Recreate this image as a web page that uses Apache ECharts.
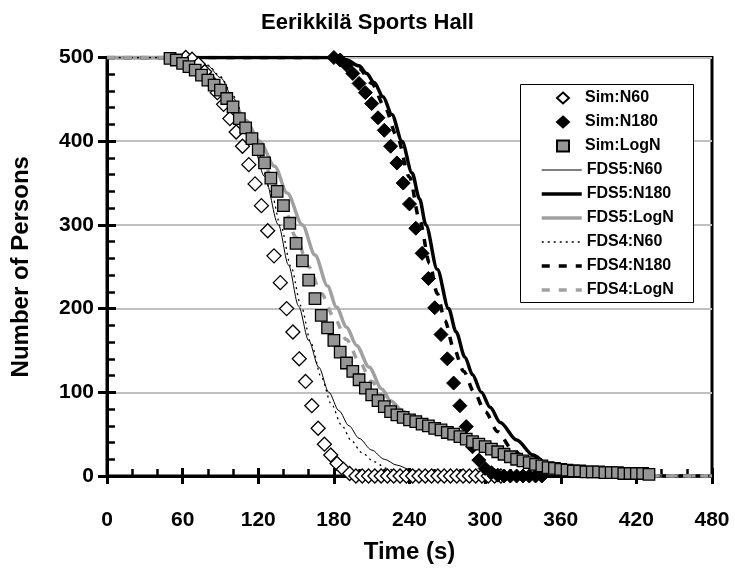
<!DOCTYPE html>
<html><head><meta charset="utf-8">
<script src="https://cdn.jsdelivr.net/npm/echarts@6/dist/echarts.min.js"></script>
<style>html,body{margin:0;padding:0;background:#fff}#c{width:735px;height:569px}</style>
</head><body><div id="c"></div>
<script>
// ---- data (time s, number of persons) ----
const simN60 = [[62.5,500],[67.5,498],[72.5,492],[77.5,483],[82.5,471],[87.5,458],[92.5,444],[97.5,427],[102.5,411],[107.5,394],[112.5,372],[117.5,349],[122.5,323],[127.5,293],[132.5,263],[137.5,231],[142.5,200],[147.5,172],[152.5,140],[157.5,113],[162.5,84],[167.5,57],[172.5,38],[177.5,25],[182.5,15],[187.5,8],[192.5,3],[197.5,0],[202.5,0],[207.5,0],[212.5,0],[217.5,0],[222.5,0],[227.5,0],[232.5,0],[237.5,0],[242.5,0],[247.5,0],[252.5,0],[257.5,0],[262.5,0],[267.5,0],[272.5,0],[277.5,0],[282.5,0],[287.5,0],[292.5,0],[297.5,0],[302.5,0],[307.5,0],[312.5,0]];
const simN180 = [[180,500],[185,497],[190,491],[195,481],[200,469],[205,458],[210,445],[215,428],[220,413],[225,394],[230,374],[235,350],[240,325],[245,296],[250,266],[255,236],[260,201],[265,169],[270,140],[275,111],[280,84],[285,59],[290,35],[295,19],[300,9],[305,4],[310,1],[315,0],[320,0],[325,0],[330,0],[335,0],[340,0],[345,0]];
const simLogN = [[50,499],[55,497],[60,493],[65,489],[70,485],[75,479],[80,473],[85,467],[90,461],[95,451],[100,441],[105,427],[110,416],[115,403],[120,390],[125,374],[130,356],[135,340],[140,323],[145,302],[150,278],[155,257],[160,234],[165,212],[170,192],[175,177],[180,162],[185,148],[190,135],[195,125],[200,115],[205,105],[210,97],[215,90],[220,83],[225,77],[230,73],[235,70],[240,67],[245,65],[250,62],[255,60],[260,57],[265,55],[270,52],[275,50],[280,47],[285,44],[290,41],[295,38],[300,35],[305,32],[310,29],[315,26],[320,23],[325,20],[330,18],[335,16],[340,14],[345,12],[350,10],[355,9],[360,8],[365,7],[370,6],[375,6],[380,5],[385,5],[390,5],[395,4],[400,4],[405,4],[410,3],[415,3],[420,3],[425,3],[430,2]];
const fds5N60 = [[0,500],[60,500],[70,497],[80,490],[90,476],[100,452],[108,428],[115,400],[125,358],[136,300],[144,252],[152,203],[160,162],[168,130],[176,100],[184,78],[192,60],[200,45],[210,31],[220,20],[230,13],[240,8],[250,4],[260,1],[270,0],[480,0]];
const fds5N180 = [[0,500],[180,500],[190,497],[200,490],[206,481],[212,470],[219,453],[226,432],[234,400],[242,362],[248,331],[253,300],[262,247],[271,200],[277,172],[284,142],[290,121],[297,100],[304,82],[312,64],[325,43],[338,25],[349,15],[360,9],[370,5],[380,2],[390,0],[480,0]];
const fds5LogN = [[0,500],[50,500],[60,497],[70,492],[80,482],[90,467],[100,447],[110,425],[121,400],[133,370],[143,338],[155,300],[165,264],[175,227],[182,202],[190,178],[198,156],[208,130],[218,104],[225,90],[235,77],[245,68],[260,58],[280,46],[300,34],[320,23],[340,14],[360,8],[380,4],[400,2],[420,1],[440,0],[480,0]];
const fds4N60 = [[0,500],[60,500],[70,498],[80,491],[90,477],[100,454],[110,424],[120,386],[130,340],[138,298],[146,250],[154,203],[162,158],[170,118],[178,86],[186,61],[194,42],[202,28],[212,17],[222,9],[232,4],[242,1],[250,0],[480,0]];
const fds4N180 = [[0,500],[180,500],[190,496],[200,487],[210,469],[220,442],[230,406],[240,357],[248,306],[256,254],[262,218],[268,186],[275,153],[283,125],[291,101],[300,77],[310,53],[321,33],[333,18],[345,8],[355,3],[365,0],[480,0]];
const fds4LogN = [[0,500],[50,500],[60,497],[70,491],[80,480],[90,465],[100,445],[110,421],[120,393],[130,360],[140,322],[150,285],[160,250],[170,218],[180,190],[190,163],[200,137],[210,113],[220,93],[230,79],[240,70],[255,60],[270,51],[290,39],[310,28],[330,19],[350,12],[370,7],[390,4],[410,2],[430,0],[480,0]];
const simNames = ['Sim:N60','Sim:N180','Sim:LogN'];
const fdsNames = ['FDS5:N60','FDS5:N180','FDS5:LogN','FDS4:N60','FDS4:N180','FDS4:LogN'];
const xMin = 0, xMax = 480, xStep = 60;
const yMin = 0, yMax = 500, yStep = 100;

const FONT = 'Liberation Sans, Arial, sans-serif';
const GRAY_LINE = '#a0a0a0';
const GRAY_FILL = '#969696';

const lineDefs = {
  'FDS5:N60':  { data: fds5N60,  color: '#000',    width: 1,   type: 'solid' },
  'FDS5:N180': { data: fds5N180, color: '#000',    width: 3.5, type: 'solid' },
  'FDS5:LogN': { data: fds5LogN, color: GRAY_LINE, width: 3.5, type: 'solid' },
  'FDS4:N60':  { data: fds4N60,  color: '#000',    width: 1.3, type: [2, 4] },
  'FDS4:N180': { data: fds4N180, color: '#000',    width: 3.5, type: [8, 9] },
  'FDS4:LogN': { data: fds4LogN, color: GRAY_LINE, width: 3.5, type: [8, 9] }
};

function lineSeries(name) {
  const d = lineDefs[name];
  return { name, type: 'line', data: d.data, symbol: 'none', smooth: 0.3, smoothMonotone: 'x',
    lineStyle: { color: d.color, width: d.width, type: d.type }, itemStyle: { color: 'rgba(0,0,0,0)', borderWidth: 0 },
    z: 2, animation: false, xAxisIndex: 0, yAxisIndex: 0 };
}
function scatterSeries(name, data, symbol, size, fill, border, z) {
  return { name, type: 'scatter', data, symbol, symbolSize: size,
    itemStyle: { color: fill, borderColor: '#000', borderWidth: border, opacity: 1 },
    z, animation: false, xAxisIndex: 0, yAxisIndex: 0 };
}

const legendText = { fontFamily: FONT, fontWeight: 'bold', fontSize: 16, color: '#000', lineHeight: 16 };
const chart = echarts.init(document.getElementById('c'), null, { renderer: 'canvas' });
const axisBase = (min, max, step) => ({ type: 'value', min, max, interval: step });
chart.setOption({
  backgroundColor: '#fff',
  animation: false,
  title: { text: 'Eerikkilä Sports Hall', left: 'center', top: 7,
    textStyle: { fontFamily: FONT, fontWeight: 'bold', fontSize: 22, color: '#000' } },
  grid: { left: 107, right: 23, top: 57.5, bottom: 93, show: true, borderColor: '#000', borderWidth: 3, backgroundColor: '#fff' },
  graphic: [{ type: 'rect', left: 520, top: 84, z: 3,
    shape: { width: 173, height: 218 }, style: { fill: '#fff', stroke: '#000', lineWidth: 1 } }],
  legend: [
    { orient: 'vertical', left: 556, top: 90, padding: 0,
      itemWidth: 12, itemHeight: 11, itemGap: 8, z: 5,
      textStyle: Object.assign({ padding: [0, 0, 0, 11] }, legendText),
      data: simNames, selectedMode: false },
    { orient: 'vertical', left: 540, top: 162, padding: 0,
      itemWidth: 40, itemHeight: 12, itemGap: 8, z: 5,
      textStyle: legendText, selectedMode: false,
      data: fdsNames.map(n => ({ name: n,
        lineStyle: { color: lineDefs[n].color, width: lineDefs[n].width, type: lineDefs[n].type },
        itemStyle: { opacity: 0 } })) }
  ],
  xAxis: [
    Object.assign(axisBase(xMin, xMax, xStep), {
      name: 'Time (s)', nameLocation: 'middle', nameGap: 64,
      nameTextStyle: { fontFamily: FONT, fontWeight: 'bold', fontSize: 24, color: '#000' },
      axisLine: { show: true, onZero: false, lineStyle: { color: '#000', width: 3 } },
      axisTick: { show: true, inside: false, length: 8, lineStyle: { color: '#000', width: 3 } },
      axisLabel: { margin: 34, fontFamily: FONT, fontWeight: 'bold', fontSize: 21, color: '#000' },
      splitLine: { show: false }
    }),
    Object.assign(axisBase(xMin, xMax, xStep), {
      position: 'bottom',
      axisLine: { show: false },
      axisTick: { show: true, inside: true, length: 8, lineStyle: { color: '#000', width: 3 } },
      minorTick: { show: true, splitNumber: 3, length: 7, lineStyle: { color: '#000', width: 2.5 } },
      axisLabel: { show: false }, splitLine: { show: false }
    })
  ],
  yAxis: [
    Object.assign(axisBase(yMin, yMax, yStep), {
      name: 'Number of Persons', nameLocation: 'middle', nameGap: 74,
      nameTextStyle: { fontFamily: FONT, fontWeight: 'bold', fontSize: 24, color: '#000' },
      axisLine: { show: true, onZero: false, lineStyle: { color: '#000', width: 3 } },
      axisTick: { show: true, inside: false, length: 9, lineStyle: { color: '#000', width: 3 } },
      axisLabel: { margin: 13, fontFamily: FONT, fontWeight: 'bold', fontSize: 21, color: '#000' },
      splitLine: { show: true, lineStyle: { color: '#c0c0c0', width: 2 } }
    }),
    Object.assign(axisBase(yMin, yMax, yStep), {
      position: 'left',
      axisLine: { show: false },
      axisTick: { show: true, inside: true, length: 9, lineStyle: { color: '#000', width: 3 } },
      minorTick: { show: true, splitNumber: 5, length: 8, lineStyle: { color: '#000', width: 2.5 } },
      axisLabel: { show: false }, splitLine: { show: false }
    })
  ],
  series: [
    lineSeries('FDS5:N60'),
    lineSeries('FDS5:N180'),
    lineSeries('FDS5:LogN'),
    lineSeries('FDS4:N60'),
    lineSeries('FDS4:N180'),
    lineSeries('FDS4:LogN'),
    scatterSeries('Sim:N60', simN60, 'diamond', 14, '#fff', 1.3, 3),
    scatterSeries('Sim:N180', simN180, 'diamond', 14, '#000', 1, 4),
    scatterSeries('Sim:LogN', simLogN, 'rect', 11.5, GRAY_FILL, 1.3, 5)
  ]
});
</script></body></html>
